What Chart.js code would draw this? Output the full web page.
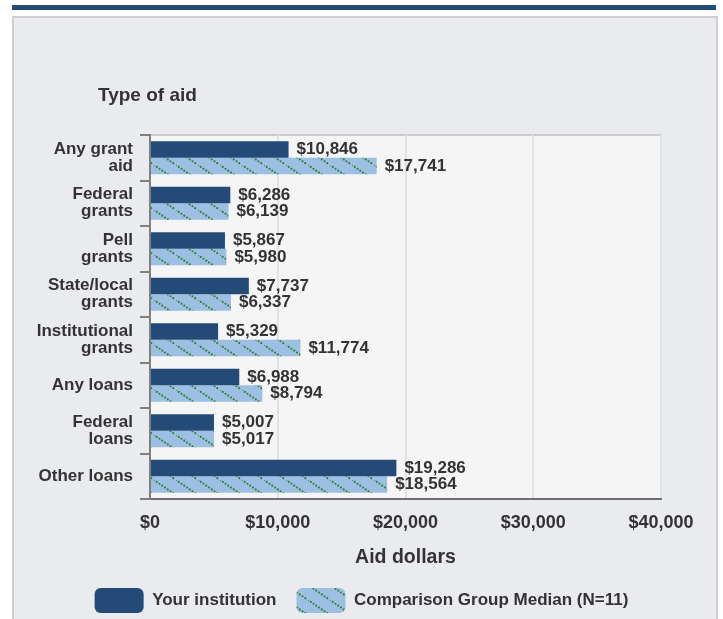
<!DOCTYPE html>
<html>
<head>
<meta charset="utf-8">
<script src="https://cdn.jsdelivr.net/npm/chart.js@4.4.1/dist/chart.umd.min.js"></script>
<style>
  body { margin: 0; background: #fff; width: 723px; height: 619px; overflow: hidden; position: relative; }
  .topbar { position: absolute; left: 12px; top: 5px; width: 704px; height: 5px; background: #244a78; }
  .panel { position: absolute; left: 12px; top: 16px; width: 702px; height: 620px;
           background: #eaebef; border: 2px solid #cfcfcf; border-bottom: none; }
  #chart { position: absolute; left: 0; top: 0; z-index: 2; }
</style>
</head>
<body>
<div class="topbar"></div>
<div class="panel"></div>
<canvas id="chart" width="723" height="619"></canvas>
<script>
var categories = [['Any grant', 'aid'], ['Federal', 'grants'], ['Pell', 'grants'], ['State/local', 'grants'],
	['Institutional', 'grants'], 'Any loans', ['Federal', 'loans'], 'Other loans'];
var yourValues = [10846, 6286, 5867, 7737, 5329, 6988, 5007, 19286];
var medianValues = [17741, 6139, 5980, 6337, 11774, 8794, 5017, 18564];
var xTicks = [0, 10000, 20000, 30000, 40000];

var FONT = "'Liberation Sans', Arial, sans-serif";
var TEXT = '#333333';

function money(v){
	return '$' + Number(v).toLocaleString('en-US');
}

// hatched light blue fill with green dotted diagonals
function makePattern(){
	var c = document.createElement('canvas');
	c.width = 22; c.height = 15;
	var g = c.getContext('2d');
	g.fillStyle = '#9dbfe4';
	g.fillRect(0, 0, 22, 15);
	g.fillStyle = '#2f8433';
	for(var x = 0; x < 22; x += 2.75){
		g.beginPath();
		g.arc(x, x * 15 / 22, 1.1, 0, Math.PI * 2);
		g.fill();
	}
	return g.createPattern(c, 'repeat');
}

var plotBg = {
	id: 'plotBg',
	beforeDraw: function(chart){
		var a = chart.chartArea, ctx = chart.ctx;
		ctx.save();
		ctx.fillStyle = '#f5f5f5';
		ctx.fillRect(a.left, a.top, a.right - a.left, a.bottom - a.top);
		ctx.fillStyle = '#cccccc';
		ctx.fillRect(a.left, a.top - 1, a.right - a.left, 2);
		// axis heading above the category labels
		ctx.fillStyle = TEXT;
		ctx.font = 'bold 19px ' + FONT;
		ctx.textBaseline = 'middle';
		ctx.fillText('Type of aid', 98, 96);
		ctx.restore();
	}
};

var valueLabels = {
	id: 'valueLabels',
	afterDatasetsDraw: function(chart){
		var ctx = chart.ctx;
		ctx.save();
		ctx.font = 'bold 17px ' + FONT;
		ctx.fillStyle = TEXT;
		ctx.textBaseline = 'middle';
		chart.data.datasets.forEach(function(ds, i){
			chart.getDatasetMeta(i).data.forEach(function(bar, j){
				ctx.fillText(money(ds.data[j]), bar.x + 8, bar.y);
			});
		});
		ctx.restore();
	}
};

new Chart(document.getElementById('chart'), {
	type: 'bar',
	data: {
		labels: categories,
		datasets: [{
			label: 'Your institution',
			data: yourValues,
			backgroundColor: '#244a78',
			borderWidth: 0,
			categoryPercentage: 0.72,
			barPercentage: 1
		}, {
			label: 'Comparison Group Median (N=11)',
			data: medianValues,
			backgroundColor: makePattern(),
			borderWidth: 0,
			categoryPercentage: 0.72,
			barPercentage: 1
		}]
	},
	options: {
		indexAxis: 'y',
		responsive: false,
		animation: false,
		devicePixelRatio: 1,
		layout: { padding: { top: 135, right: 0, left: 0, bottom: -4 } },
		plugins: {
			legend: {
				position: 'bottom',
				labels: {
					boxWidth: 49,
					boxHeight: 25,
					useBorderRadius: true,
					borderRadius: 6,
					padding: 20,
					color: TEXT,
					font: { family: FONT, size: 17, weight: 'bold' }
				}
			},
			tooltip: { enabled: false }
		},
		scales: {
			x: {
				min: 0,
				max: 40000,
				afterBuildTicks: function(scale){
					scale.ticks = xTicks.map(function(v){ return { value: v }; });
				},
				afterFit: function(scale){ scale.height = 69; },
				grid: { color: '#dde2ec', lineWidth: 2, drawTicks: false },
				border: { color: '#6f6f6f', width: 2 },
				ticks: {
					padding: 13,
					color: TEXT,
					font: { family: FONT, size: 18, weight: 'bold' },
					callback: function(v){ return money(v); }
				},
				title: {
					display: true,
					text: 'Aid dollars',
					color: TEXT,
					padding: { top: 0, bottom: 1 },
					font: { family: FONT, size: 19.5, weight: 'bold', lineHeight: 1 }
				}
			},
			y: {
				afterFit: function(scale){ scale.width = 150; },
				grid: { drawOnChartArea: false, drawTicks: true, tickLength: 10, color: '#7f7f7f', lineWidth: 2 },
				border: { color: '#7f7f7f', width: 2 },
				ticks: {
					padding: 7,
					color: TEXT,
					font: { family: FONT, size: 17, weight: 'bold', lineHeight: 1 }
				}
			},
			// empty right-hand spacer so the plot ends where the reference does
			spacer: {
				type: 'linear',
				position: 'right',
				afterFit: function(scale){ scale.width = 62; },
				grid: { display: false },
				border: { display: false },
				ticks: { display: false }
			}
		}
	},
	plugins: [plotBg, valueLabels]
});
</script>
</body>
</html>
